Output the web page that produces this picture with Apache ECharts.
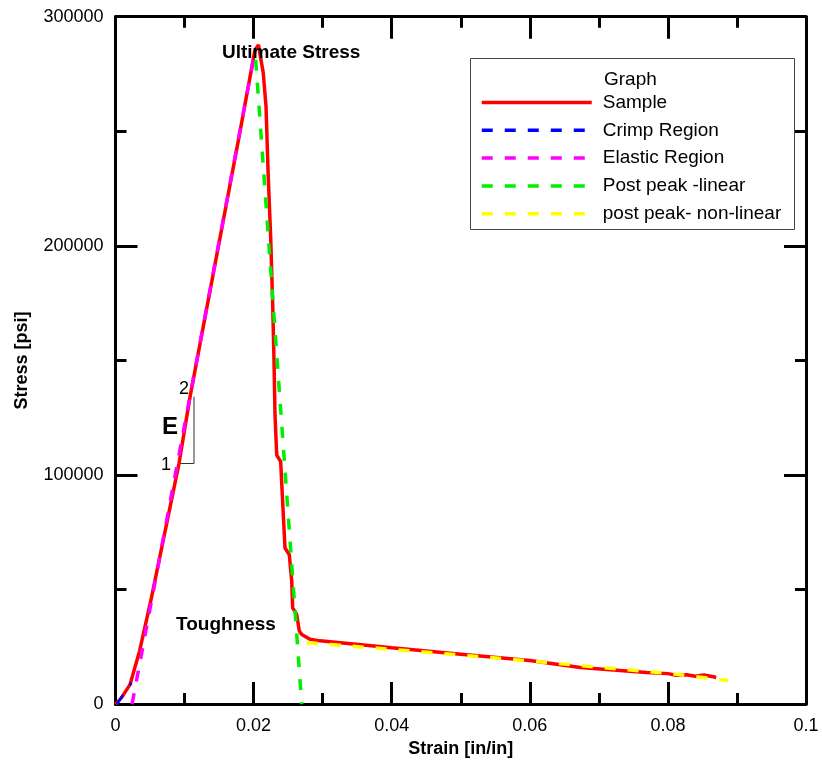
<!DOCTYPE html>
<html>
<head>
<meta charset="utf-8">
<script src="https://cdn.jsdelivr.net/npm/echarts@6/dist/echarts.min.js"></script>
<style>
html,body{margin:0;padding:0;background:#fff;}
#chart{width:822px;height:763px;}
</style>
</head>
<body>
<div id="chart"></div>
<script>
// ---- Data (strain [in/in], stress [psi]) ----
const sampleStrain = [0, 0.0008, 0.0021, 0.0035, 0.0052, 0.0092, 0.0108, 0.0180, 0.0202, 0.0207,
  0.0214, 0.0218, 0.0221, 0.02248, 0.02277, 0.02295, 0.0231, 0.02335, 0.02392, 0.0243, 0.02455,
  0.02517, 0.02552, 0.02566, 0.02624, 0.02662, 0.02697, 0.02817, 0.02962, 0.040, 0.050, 0.060,
  0.0673, 0.0769, 0.0800, 0.0812, 0.0827, 0.0840, 0.0852, 0.0866, 0.0870];
const sampleStress = [0, 2500, 8500, 23300, 46400, 105100, 134200, 249300, 285500, 287700,
  275400, 260900, 232000, 202900, 173900, 150700, 126100, 108700, 105800, 82600, 68100,
  65200, 53800, 42000, 39100, 31900, 30400, 28300, 27600, 24600, 21800, 19000,
  15950, 13770, 13300, 12600, 12780, 12200, 12700, 11910, 11600];

const crimpStrain = [0.0002, 0.0023];
const crimpStress = [0, 9300];

const elasticStrain = [0.0024, 0.0202];
const elasticStress = [0, 285000];

const linearStrain = [0.0203, 0.02697];
const linearStress = [281200, 0];

const nonlinStrain = [0.0277, 0.040, 0.050, 0.060, 0.070, 0.080, 0.0887];
const nonlinStress = [26800, 23900, 21400, 18800, 16100, 13400, 10300];

// slope triangle for E
const triStrain = [0.0092, 0.01137, 0.01137];
const triStress = [105000, 105000, 134200];

const xTickLabels = ['0', '0.02', '0.04', '0.06', '0.08', '0.1'];
const yTickLabels = ['0', '100000', '200000', '300000'];

const seriesNames = ['Sample', 'Crimp Region', 'Elastic Region', 'Post peak -linear', 'post peak- non-linear'];

function pairs(xs, ys) { return xs.map((x, i) => [x, ys[i]]); }

const FONT = "'Liberation Sans', Arial, sans-serif";
const chart = echarts.init(document.getElementById('chart'), null, {renderer: 'canvas'});

const axisCommon = {
  axisLine: {show: true, onZero: false, lineStyle: {color: '#000', width: 3}},
  axisTick: {show: true, inside: true, length: 22, lineStyle: {color: '#000', width: 3}},
  minorTick: {show: true, splitNumber: 2, length: 11, lineStyle: {color: '#000', width: 3}},
  splitLine: {show: false},
  minorSplitLine: {show: false}
};

const option = {
  animation: false,
  backgroundColor: '#fff',
  grid: {left: 115.5, right: 16, top: 16.7, bottom: 56.3, containLabel: false},
  xAxis: [
    Object.assign({
      type: 'value', min: 0, max: 0.1, interval: 0.02, position: 'bottom',
      name: 'Strain [in/in]', nameLocation: 'middle', nameGap: 33,
      nameTextStyle: {fontFamily: FONT, fontSize: 18, fontWeight: 'bold', color: '#000'},
      axisLabel: {margin: 13, fontFamily: FONT, fontSize: 18, color: '#000',
        formatter: v => xTickLabels[Math.round(v / 0.02)]}
    }, axisCommon),
    Object.assign({
      type: 'value', min: 0, max: 0.1, interval: 0.02, position: 'top',
      axisLabel: {show: false}
    }, axisCommon)
  ],
  yAxis: [
    Object.assign({
      type: 'value', min: 0, max: 300000, interval: 100000, position: 'left',
      name: 'Stress [psi]', nameLocation: 'middle', nameGap: 84, nameRotate: 90,
      nameTextStyle: {fontFamily: FONT, fontSize: 18, fontWeight: 'bold', color: '#000'},
      axisLabel: {margin: 12, fontFamily: FONT, fontSize: 18, color: '#000',
        formatter: v => yTickLabels[Math.round(v / 100000)]}
    }, axisCommon),
    Object.assign({
      type: 'value', min: 0, max: 300000, interval: 100000, position: 'right',
      axisLabel: {show: false}
    }, axisCommon)
  ],
  legend: {
    orient: 'vertical', left: 480, top: 93, padding: 0,
    itemWidth: 110, itemHeight: 16, itemGap: 8.8,
    data: seriesNames,
    itemStyle: {opacity: 0, borderWidth: 0},
    lineStyle: {width: 3.5},
    textStyle: {fontFamily: FONT, fontSize: 19, color: '#000', padding: [0, 0, 0, 6]},
    selectedMode: false
  },
  graphic: [
    {type: 'rect', shape: {x: 470.5, y: 58.5, width: 324, height: 171},
      style: {fill: null, stroke: '#444', lineWidth: 1}, z: 10},
    {type: 'text', x: 604, y: 80, style: {text: 'Graph', font: '19px ' + FONT, fill: '#000', textVerticalAlign: 'middle'}, z: 11},
    {type: 'text', x: 222, y: 53, style: {text: 'Ultimate Stress', font: 'bold 19px ' + FONT, fill: '#000', textVerticalAlign: 'middle'}, z: 11},
    {type: 'text', x: 176, y: 625, style: {text: 'Toughness', font: 'bold 19px ' + FONT, fill: '#000', textVerticalAlign: 'middle'}, z: 11},
    {type: 'text', x: 162, y: 427, style: {text: 'E', font: 'bold 24px ' + FONT, fill: '#000', textVerticalAlign: 'middle'}, z: 11},
    {type: 'text', x: 161, y: 465, style: {text: '1', font: '18px ' + FONT, fill: '#000', textVerticalAlign: 'middle'}, z: 11},
    {type: 'text', x: 179, y: 389, style: {text: '2', font: '18px ' + FONT, fill: '#000', textVerticalAlign: 'middle'}, z: 11}
  ],
  series: [
    {name: seriesNames[0], type: 'line', data: pairs(sampleStrain, sampleStress), symbol: 'none',
      lineStyle: {color: '#ff0000', width: 3.5}, itemStyle: {color: '#ff0000'}, z: 2},
    {name: seriesNames[1], type: 'line', data: pairs(crimpStrain, crimpStress), symbol: 'none',
      lineStyle: {color: '#0000ff', width: 2.5, type: [11, 12]}, itemStyle: {color: '#0000ff'}, z: 3},
    {name: seriesNames[2], type: 'line', data: pairs(elasticStrain, elasticStress), symbol: 'none',
      lineStyle: {color: '#ff00ff', width: 3.5, type: [11, 12]}, itemStyle: {color: '#ff00ff'}, z: 3},
    {name: seriesNames[3], type: 'line', data: pairs(linearStrain, linearStress), symbol: 'none',
      lineStyle: {color: '#00ee00', width: 3.5, type: [11, 12]}, itemStyle: {color: '#00ee00'}, z: 3},
    {name: seriesNames[4], type: 'line', data: pairs(nonlinStrain, nonlinStress), symbol: 'none',
      lineStyle: {color: '#ffff00', width: 3.5, type: [11, 12]}, itemStyle: {color: '#ffff00'}, z: 4},
    {name: 'E triangle', type: 'line', data: pairs(triStrain, triStress), symbol: 'none',
      lineStyle: {color: '#333', width: 1}, z: 1, silent: true}
  ]
};
chart.setOption(option);
</script>
</body>
</html>
